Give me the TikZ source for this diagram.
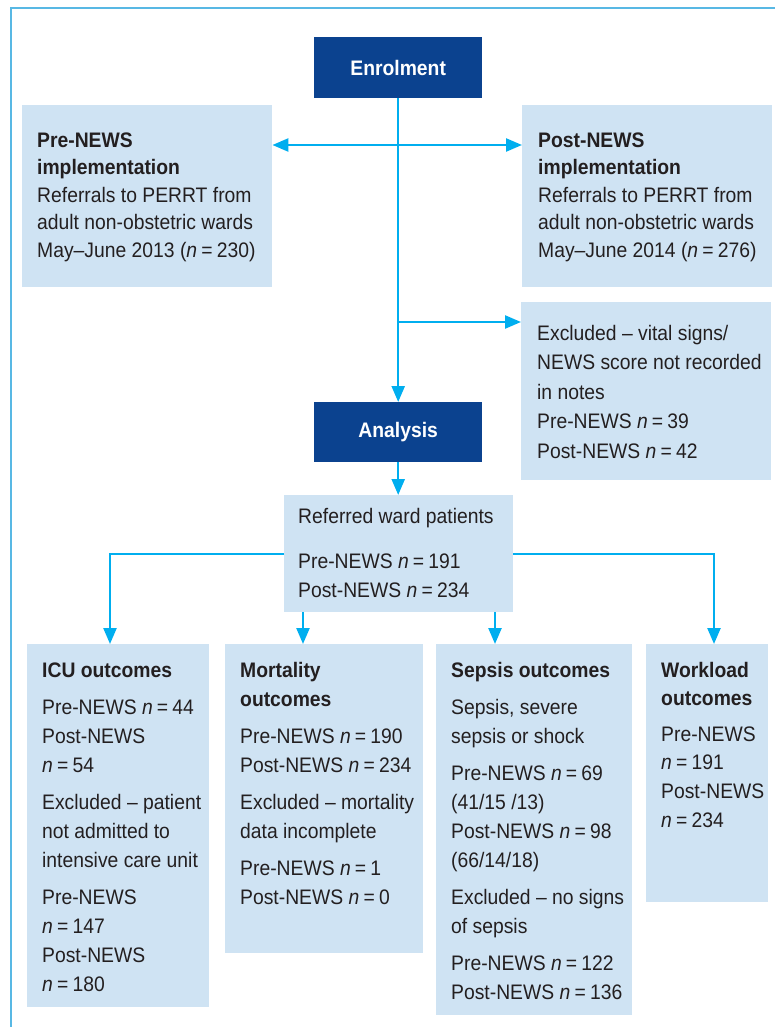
\documentclass[tikz,border=0pt]{standalone}
\usepackage{fontspec}
\setmainfont{Liberation Sans}[FakeStretch=0.92]
\usetikzlibrary{arrows.meta,calc}
\definecolor{boxfill}{RGB}{207,227,243}
\definecolor{dblue}{RGB}{11,66,143}
\definecolor{arrc}{RGB}{0,174,239}
\definecolor{framec}{RGB}{88,184,228}
\definecolor{txtc}{RGB}{35,31,32}
\newcommand{\nn}[1]{\textit{n}\hspace{0.2em}=\hspace{0.2em}#1}
\begin{document}
\begin{tikzpicture}[x=1pt,y=1pt,
  lbox/.style={fill=boxfill, draw=none, inner sep=0pt, anchor=north west},
  hbox/.style={fill=dblue, draw=none, inner sep=0pt, anchor=north west, text=white,
    font=\bfseries\fontsize{21}{24}\selectfont},
  txt/.style={anchor=north west, inner sep=0pt, align=left, text=txtc},
  conn/.style={draw=arrc, line width=2.4pt, -{Triangle[length=16pt,width=13pt]}},
]
\useasboundingbox (0,0) rectangle (775,-1027);
% frame
\draw[framec, line width=2pt] (11,-1027) -- (11,-8) -- (775,-8);

% boxes
\node[hbox, minimum width=168pt, minimum height=61pt] (enrol) at (314,-37) {Enrolment};
\node[lbox, minimum width=250pt, minimum height=182pt] (pre) at (22,-105) {};
\node[lbox, minimum width=250pt, minimum height=182pt] (post) at (522,-105) {};
\node[lbox, minimum width=250pt, minimum height=178pt] (excl) at (521,-302) {};
\node[hbox, minimum width=168pt, minimum height=60pt] (analysis) at (314,-402) {Analysis};
\node[lbox, minimum width=229pt, minimum height=117pt] (referred) at (284,-495) {};
\node[lbox, minimum width=182pt, minimum height=363pt] (icu) at (27,-644) {};
\node[lbox, minimum width=198pt, minimum height=309pt] (mort) at (225,-644) {};
\node[lbox, minimum width=196pt, minimum height=371pt] (sepsis) at (436,-644) {};
\node[lbox, minimum width=122pt, minimum height=258pt] (work) at (646,-644) {};

% texts
\node[txt, font=\fontsize{21}{27.5}\selectfont] (pretxt) at (37,-127.75)
  {\strut\textbf{Pre-NEWS}\\\textbf{implementation}\\Referrals to PERRT from\\adult non-obstetric wards\\May–June 2013 (\nn{230})};
\node[txt, font=\fontsize{21}{27.5}\selectfont] (posttxt) at (538,-127.75)
  {\strut\textbf{Post-NEWS}\\\textbf{implementation}\\Referrals to PERRT from\\adult non-obstetric wards\\May–June 2014 (\nn{276})};
\node[txt, font=\fontsize{21}{29.5}\selectfont] (excltxt) at (537,-319.35)
  {\strut Excluded – vital signs/\\NEWS score not recorded\\in notes\\Pre-NEWS \nn{39}\\Post-NEWS \nn{42}};
\node[txt, font=\fontsize{21}{29.5}\selectfont] (reftxt) at (298,-502.35)
  {\strut Referred ward patients\\[15.5pt]Pre-NEWS \nn{191}\\Post-NEWS \nn{234}};
\node[txt, font=\fontsize{21}{29}\selectfont] (icutxt) at (42,-656.7)
  {\strut\textbf{ICU outcomes}\\[8pt]Pre-NEWS \nn{44}\\Post-NEWS\\\nn{54}\\[8pt]Excluded – patient\\not admitted to\\intensive care unit\\[8pt]Pre-NEWS\\\nn{147}\\Post-NEWS\\\nn{180}};
\node[txt, font=\fontsize{21}{29}\selectfont] (morttxt) at (240,-656.7)
  {\strut\textbf{Mortality}\\\textbf{outcomes}\\[8pt]Pre-NEWS \nn{190}\\Post-NEWS \nn{234}\\[8pt]Excluded – mortality\\data incomplete\\[8pt]Pre-NEWS \nn{1}\\Post-NEWS \nn{0}};
\node[txt, font=\fontsize{21}{29}\selectfont] (sepsistxt) at (451,-656.7)
  {\strut\textbf{Sepsis outcomes}\\[8pt]Sepsis, severe\\sepsis or shock\\[8pt]Pre-NEWS \nn{69}\\(41/15 /13)\\Post-NEWS \nn{98}\\(66/14/18)\\[8pt]Excluded – no signs\\of sepsis\\[8pt]Pre-NEWS \nn{122}\\Post-NEWS \nn{136}};
\node[txt, font=\fontsize{21}{28.6}\selectfont] (worktxt) at (661,-656.9)
  {\strut\textbf{Workload}\\\textbf{outcomes}\\[7pt]Pre-NEWS\\\nn{191}\\Post-NEWS\\\nn{234}};

% connectors
\coordinate (h) at (398,-145);
\coordinate (xb) at (398,-322);
\coordinate (bl) at (110,-554);
\coordinate (br) at (714,-554);
\coordinate (dm) at (303,0);
\coordinate (ds) at (495,0);
\draw[conn] (enrol.south) -- (analysis.north);
\draw[conn] (h) -- (h -| pre.east);
\draw[conn] (h) -- (h -| post.west);
\draw[conn] (xb) -- (xb -| excl.west);
\draw[conn] (analysis.south) -- (analysis.south |- referred.north);
\draw[conn] (bl -| referred.west) -- (bl) -- (bl |- icu.north);
\draw[conn] (br -| referred.east) -- (br) -- (br |- work.north);
\draw[conn] (dm |- referred.south) -- (dm |- mort.north);
\draw[conn] (ds |- referred.south) -- (ds |- sepsis.north);
\end{tikzpicture}
\end{document}
